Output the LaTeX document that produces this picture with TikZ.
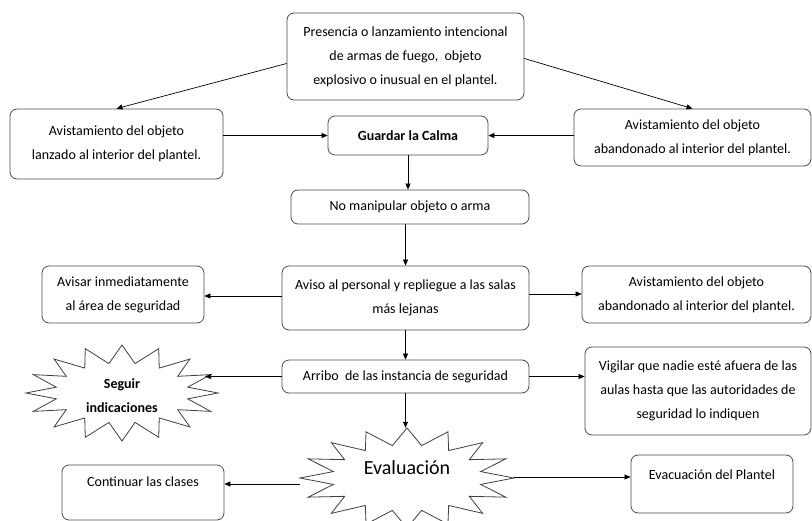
\documentclass[tikz,border=0pt]{standalone}
\usepackage{fontspec}
\setmainfont{Carlito}
\usetikzlibrary{arrows.meta,calc,shapes.geometric}
\newcommand\drawburst[5]{%
  \draw[starline] ($(#1)+(#2,0)$)
    \foreach \i [evaluate=\i as \rx using {#2-(#2-#4)*mod(\i,2)},
                 evaluate=\i as \ry using {#3-(#3-#5)*mod(\i,2)},
                 evaluate=\i as \ang using {\i*11.25}] in {1,...,31}
    { -- ($(#1)+({\rx*cos(\ang)},{\ry*sin(\ang)})$) } -- cycle;}
\begin{document}
\begin{tikzpicture}[x=1pt,y=-1pt,
  box/.style={draw=black!70, line width=0.8pt, rounded corners=7pt, align=center,
    inner sep=0pt, font=\fontsize{14}{24}\selectfont},
  plain/.style={align=center, inner sep=0pt, font=\fontsize{14}{24}\selectfont},
  arr/.style={-{Triangle[length=6pt,width=5pt]}, line width=0.7pt},
  starline/.style={draw=black!75, line width=0.8pt, fill=white}]
\useasboundingbox (0,0) rectangle (812,521);
\fill[white] (0,0) rectangle (812,521);

% star centres
\coordinate (segc) at (122,393);
\coordinate (evc) at (407,478);
\drawburst{segc}{96}{48}{67}{30}
\drawburst{evc}{107}{50}{75}{33}

\node[box, minimum width=237pt, minimum height=87pt] (top) at (405.5,56.5)
  {Presencia o lanzamiento intencional\\de armas de fuego,~ objeto\\explosivo o inusual en el plantel.};
\node[box, minimum width=213pt, minimum height=70pt] (left1) at (116.5,144)
  {Avistamiento del objeto\\lanzado al interior del plantel.};
\node[box, minimum width=160pt, minimum height=39pt, font=\fontsize{14}{24}\selectfont\bfseries] (calma) at (408,135.5)
  {Guardar la Calma};
\node[box, minimum width=237pt, minimum height=57pt] (right1) at (692.5,137.5)
  {Avistamiento del objeto\\abandonado al interior del plantel.};
\node[box, minimum width=238pt, minimum height=34pt] (nomanip) at (410,207)
  {No manipular objeto o arma};
\node[box, minimum width=247pt, minimum height=64pt] (aviso) at (405.5,298)
  {Aviso al personal y repliegue a las salas\\más lejanas};
\node[box, minimum width=162pt, minimum height=57pt] (avisar) at (123,294.5)
  {Avisar inmediatamente\\al área de seguridad};
\node[box, minimum width=229pt, minimum height=57pt] (right2) at (696.5,294.5)
  {Avistamiento del objeto\\abandonado al interior del plantel.};
\node[box, minimum width=247pt, minimum height=33pt] (arribo) at (405.5,376.5)
  {Arribo~ de las instancia de seguridad};
\node[box, minimum width=226pt, minimum height=88pt] (vigilar) at (698,391)
  {Vigilar que nadie esté afuera de las\\aulas hasta que las autoridades de\\seguridad lo indiquen};
\node[box, minimum width=162pt, inner ysep=7pt, text height=14pt, text depth=27pt] (continuar) at (143,492.5)
  {Continuar las clases};
\node[box, minimum width=162pt, inner ysep=7pt, text height=17pt, text depth=27pt] (evacua) at (712,484)
  {Evacuación del Plantel};

\node[plain, font=\fontsize{14}{24}\selectfont\bfseries] (seg) at (122,396) {Seguir\\indicaciones};
\coordinate (segR) at (205,377);
\node[ellipse, draw=none, minimum width=213pt, minimum height=100pt, inner sep=0pt] (eva) at (evc) {};
\node[plain, font=\fontsize{20}{24}\selectfont] (evalt) at (407,468) {Evaluación};

% connectors
\draw[arr] ([yshift=-7pt]top.west) -- (left1.north);
\draw[arr] ([yshift=-2pt]top.east) -- (right1.north);
\draw[arr] (calma.west -| left1.east) -- (calma.west);
\draw[arr] (calma.east -| right1.west) -- (calma.east);
\draw[arr] (calma.south) -- (calma.south |- nomanip.north);
\draw[arr] (aviso.north |- nomanip.south) -- (aviso.north);
\draw[arr] ([yshift=2pt]aviso.west) -- ([yshift=2pt]aviso.west -| avisar.east);
\draw[arr] ([yshift=4pt]aviso.east) -- ([yshift=4pt]aviso.east -| right2.west);
\draw[arr] (aviso.south) -- (arribo.north);
\draw[arr] (arribo.west) -- (arribo.west -| segR);
\draw[arr] (arribo.east) -- (arribo.east -| vigilar.west);
\draw[arr] (arribo.south) -- (arribo.south |- eva.north);
\draw[arr] ([yshift=-6pt]eva.west) -- ([yshift=-6pt]eva.west -| continuar.east);
\draw[arr] ([yshift=1pt]eva.east) -- ([yshift=1pt]eva.east -| evacua.west);
\end{tikzpicture}
\end{document}
